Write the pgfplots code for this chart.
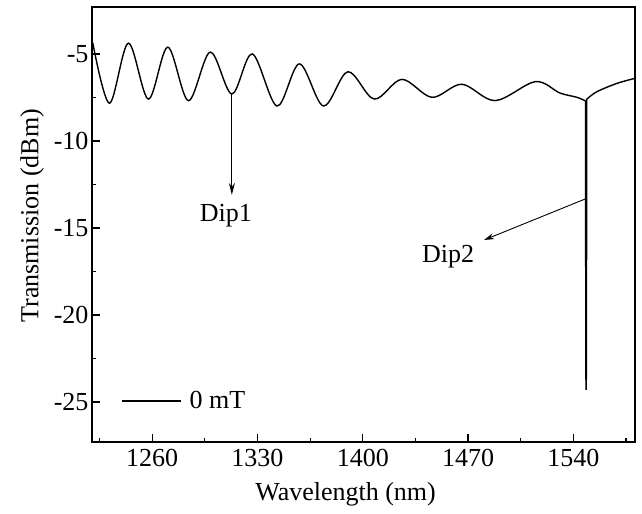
\documentclass[border=0pt]{standalone}
\usepackage{pgfplots}
\pgfplotsset{compat=1.18}
\usepackage{fontspec}
\setmainfont{Liberation Serif}
\usetikzlibrary{arrows.meta}
\newcommand{\fs}{\fontsize{26bp}{31bp}\selectfont}
\begin{document}
\begin{tikzpicture}
\begin{axis}[
  at={(0,0)}, anchor=south west,
  scale only axis, width=543bp, height=435bp,
  xmin=1220, xmax=1581, ymin=-27.3, ymax=-2.3,
  xtick={1260,1330,1400,1470,1540},
  minor xtick={1225,1295,1365,1435,1505,1575},
  ytick={-25,-20,-15,-10,-5},
  minor ytick={-22.5,-17.5,-12.5,-7.5},
  xtick pos=bottom, ytick pos=left,
  tick align=inside,
  major tick length=8bp, minor tick length=4.5bp,
  axis line style={line width=1.2bp},
  every tick/.style={black, line width=1.2bp},
  /pgf/number format/assume math mode=true,
  /pgf/number format/1000 sep={},
  tick label style={font=\fs},
  xticklabel style={yshift=-4bp},
  label style={font=\fs},
  xlabel={Wavelength (nm)},
  ylabel={Transmission (dBm)},
  xlabel style={at={(axis description cs:0.467,-0.0839)}, anchor=north},
  ylabel style={at={(axis description cs:-0.082,0.52)}, rotate=0, anchor=south},
  legend style={draw=none, fill=none, font=\fs,
    at={(axis description cs:0.0534,0.0943)}, anchor=west, inner sep=0pt,
    nodes={inner sep=0pt},
    /tikz/every odd column/.append style={column sep=8bp}},
  legend image code/.code={\draw[#1] (0bp,0bp) -- (59bp,0bp);},
]
\addplot[black, line width=1.4bp, smooth, tension=0.55] coordinates {
(1220.5,-4.35) (1231.6,-7.83) (1244.2,-4.38) (1257.5,-7.59) (1270.4,-4.61)
(1284.1,-7.68) (1298.6,-4.89) (1313.0,-7.30) (1326.6,-5.00) (1343.0,-7.99)
(1357.9,-5.57) (1373.9,-7.99) (1390.1,-6.02) (1407.6,-7.59) (1426.0,-6.46)
(1446.0,-7.49) (1465.9,-6.74) (1488.0,-7.68) (1514.7,-6.59) (1531.0,-7.24)
(1542.4,-7.49) (1548.1,-7.70)
};
\addlegendentry{0 mT}
\addplot[black, line width=1.5bp, forget plot] coordinates {
(1548.1,-7.70) (1548.35,-23.2) (1548.5,-24.3) (1548.65,-23.2) (1548.9,-7.60)
};
\addplot[black, line width=1.4bp, smooth, tension=0.55, forget plot] coordinates {
(1548.9,-7.60) (1555.6,-7.17) (1569.0,-6.69) (1581.0,-6.40)
};
\draw[line width=1.1bp, -{Stealth[length=12bp,width=6bp]}] (axis cs:1313,-7.3) -- (axis cs:1313,-13.1);
\draw[line width=0.9bp, -{Stealth[length=10bp,width=6bp]}] (axis cs:1548,-13.33) -- (axis cs:1480.7,-15.69);
\node[font=\fs] at (axis cs:1309,-14.3) {Dip1};
\node[font=\fs] at (axis cs:1456.8,-16.67) {Dip2};
\end{axis}
\pgfresetboundingbox
\path[use as bounding box] (-92bp,-72bp) rectangle (550bp,442bp);
\end{tikzpicture}
\end{document}
